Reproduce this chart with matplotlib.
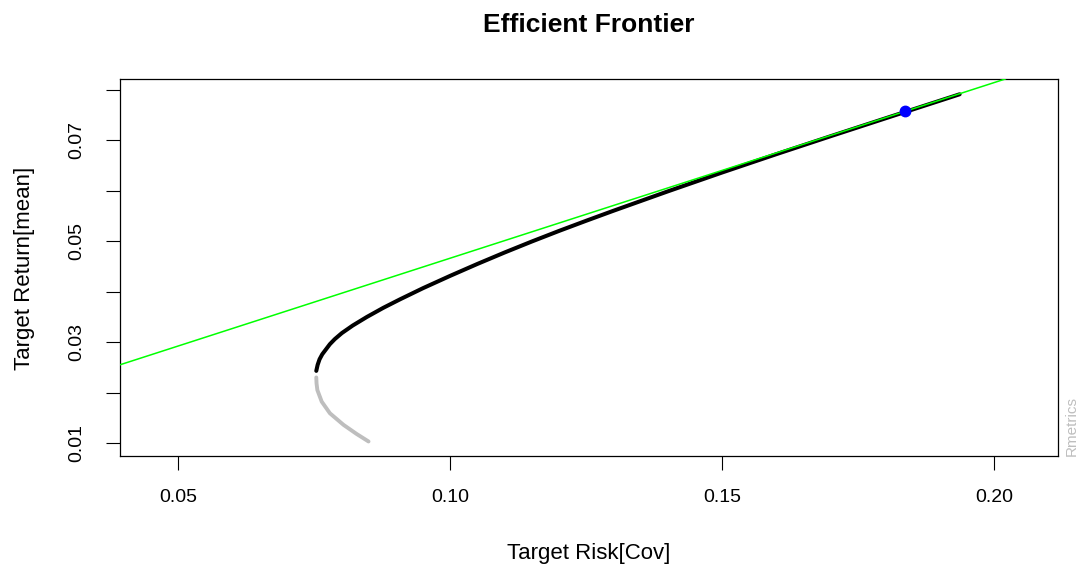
import matplotlib
matplotlib.use("Agg")
import matplotlib.pyplot as plt

plt.rcParams['font.family'] = ['Liberation Sans', 'DejaVu Sans']

# Efficient (upper) part of the frontier: target risk vs target return
frontier_risk = [0.0754, 0.07565, 0.0760, 0.0765, 0.0772, 0.0779, 0.0788, 0.0801,
                 0.0821, 0.0847, 0.0877, 0.0908, 0.0950, 0.1000, 0.1050, 0.1100,
                 0.1150, 0.1200, 0.1250, 0.1300, 0.1400, 0.1500, 0.1600, 0.1700,
                 0.1800, 0.1936]
frontier_return = [0.0243, 0.0255, 0.0266, 0.0276, 0.0286, 0.0296, 0.0306, 0.0318,
                   0.0333, 0.0350, 0.0368, 0.0385, 0.0407, 0.04315, 0.04551, 0.04778,
                   0.04996, 0.05206, 0.05408, 0.05606, 0.05991, 0.06366, 0.06731, 0.07088,
                   0.07440, 0.07916]

# Inefficient (lower) part of the frontier
lower_risk = [0.0754, 0.07545, 0.0756, 0.0764, 0.0779, 0.0804, 0.0828, 0.0850]
lower_return = [0.0230, 0.0218, 0.0205, 0.0182, 0.0159, 0.0136, 0.0118, 0.0103]

# Tangency line (intercept, slope) and tangency point
tangency_intercept = 0.0118
tangency_slope = 0.3485
tangency_point = (0.1835, 0.0758)

x_ticks = [0.05, 0.10, 0.15, 0.20]
x_tick_labels = ["0.05", "0.10", "0.15", "0.20"]
y_ticks = [0.01, 0.02, 0.03, 0.04, 0.05, 0.06, 0.07, 0.08]
y_tick_labels = ["0.01", "", "0.03", "", "0.05", "", "0.07", ""]

fig = plt.figure(figsize=(10.8, 5.67), dpi=100)
ax = fig.add_axes([120 / 1080, (567 - 456) / 567, 938 / 1080, 377 / 567])

ax.axline((0.0, tangency_intercept), slope=tangency_slope, color="#00ff00",
          lw=1.1, zorder=3)
ax.plot(lower_risk, lower_return, color="#bebebe", lw=2.8,
        solid_capstyle="round", solid_joinstyle="round", zorder=2)
ax.plot(frontier_risk, frontier_return, color="black", lw=2.9,
        solid_capstyle="round", solid_joinstyle="round", zorder=2)
ax.plot([tangency_point[0]], [tangency_point[1]], "o", color="#0000ff",
        markersize=7.5, zorder=4)

ax.set_xlim(0.03934, 0.21167)
ax.set_ylim(0.00742, 0.08219)
ax.set_xticks(x_ticks)
ax.set_xticklabels(x_tick_labels)
ax.set_yticks(y_ticks)
ax.set_yticklabels(y_tick_labels, rotation=90, va="center")

for s in ax.spines.values():
    s.set_linewidth(0.9)
ax.tick_params(axis="both", length=10, width=0.8, labelsize=14, color="black")
ax.tick_params(axis="x", pad=14)
ax.tick_params(axis="y", pad=15)

fig.text((120 + 1058) / 2 / 1080, 1 - 25 / 567, "Efficient Frontier",
         ha="center", va="center", fontsize=19, fontweight="bold")
fig.text((120 + 1058) / 2 / 1080, (567 - 553) / 567, "Target Risk[Cov]",
         ha="center", va="center", fontsize=16)
fig.text(25 / 1080, (567 - 268) / 567, "Target Return[mean]",
         ha="center", va="center", fontsize=16, rotation=90)
fig.text(1072 / 1080, (567 - 456) / 567, "Rmetrics", ha="center", va="bottom",
         fontsize=11, rotation=90, color="#bebebe")

fig.savefig("out.png", dpi=100)
